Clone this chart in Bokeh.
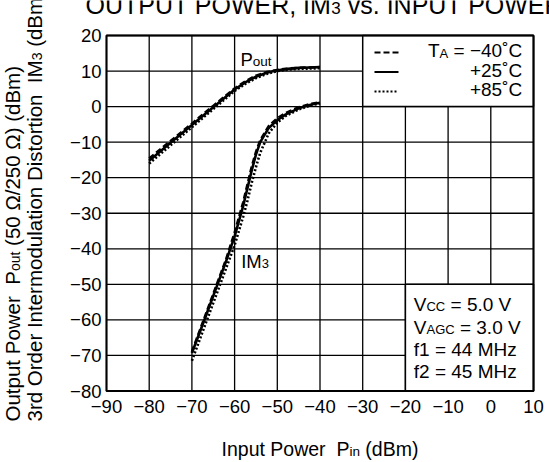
import math
from bokeh.plotting import figure
from bokeh.models import Range1d, FixedTicker, Label, LinearAxis
from bokeh.embed import file_html
from bokeh.resources import INLINE

# ---------------- data ----------------
pout_x = [-80, -75, -70, -65, -60, -57.5, -55, -52.5, -50, -47.5, -45, -42.5, -40]
pout_m40 = [-14.6, -9.7, -4.8, 0.2, 5.1, 7.1, 8.7, 9.7, 10.3, 10.7, 10.9, 11.0, 11.1]
pout_p25 = [-15.2, -10.2, -5.2, -0.2, 4.8, 6.8, 8.4, 9.5, 10.2, 10.6, 10.9, 11.0, 11.1]
pout_p85 = [-16.0, -10.9, -5.8, -0.7, 4.4, 6.4, 8.0, 9.2, 10.0, 10.4, 10.6, 10.7, 10.8]

im3_x = [-70, -68, -66, -64, -62, -60, -58, -57, -56, -55, -54, -52, -50, -48, -45, -42, -40]
im3_m40 = [-69.0, -62.5, -56.0, -49.5, -43.0, -35.5, -27.0, -22.0, -17.0, -12.8, -9.5, -5.5, -3.3, -1.8, -0.2, 0.8, 1.2]
im3_p25 = [-69.3, -63.0, -56.5, -50.0, -43.5, -36.5, -28.0, -23.0, -18.0, -13.5, -10.0, -6.0, -3.8, -2.2, -0.5, 0.6, 1.1]
im3_p85 = [-71.5, -65.0, -58.5, -52.0, -45.5, -39.0, -31.0, -26.5, -21.5, -17.0, -13.0, -7.5, -4.5, -2.6, -0.8, 0.4, 0.9]

x_ticks = [-90, -80, -70, -60, -50, -40, -30, -20, -10, 0, 10]
y_ticks = [-80, -70, -60, -50, -40, -30, -20, -10, 0, 10, 20]
x_tick_labels = ["−90", "−80", "−70", "−60", "−50", "−40", "−30", "−20", "−10", "0", "10"]
y_tick_labels = ["−80", "−70", "−60", "−50", "−40", "−30", "−20", "−10", "0", "10", "20"]

legend_temps = ["−40˚C", "+25˚C", "+85˚C"]
legend_dashes = ["6 3", "solid", "2 2"]
conditions = [("V", "CC", " = 5.0 V"), ("V", "AGC", " = 3.0 V"), ("f1 = 44 MHz", "", ""), ("f2 = 45 MHz", "", "")]

# panels that hide the grid (legend / test conditions)
box_left = [-30, -20]
box_right = [10, 10]
box_bottom = [0, -80]
box_top = [20, -50]

X_MIN, X_MAX, Y_MIN, Y_MAX = -90, 10, -80, 20

# ---------------- layout ----------------
W, H = 549, 462
CL, CR, CT, CB = 106, 533, 35, 390.5      # chart box in canvas pixels
FONT = "Liberation Sans"
kx = (X_MAX - X_MIN) / (CR - CL)
ky = (Y_MAX - Y_MIN) / (CB - CT)
XS, XE = X_MIN - CL * kx, X_MAX + (W - CR) * kx
YS, YE = Y_MIN - (H - CB) * ky, Y_MAX + CT * ky

p = figure(width=W, height=H, x_range=Range1d(XS, XE), y_range=Range1d(YS, YE),
           output_backend="svg", toolbar_location=None,
           x_axis_location=None, y_axis_location=None, min_border=0)
p.background_fill_color = "white"
p.border_fill_color = "white"
p.outline_line_color = None
p.grid.visible = False

xaxis = LinearAxis(fixed_location=Y_MIN, ticker=FixedTicker(ticks=x_ticks))
yaxis = LinearAxis(fixed_location=X_MIN, ticker=FixedTicker(ticks=y_ticks))
for ax, ticks, labs in ((xaxis, x_ticks, x_tick_labels), (yaxis, y_ticks, y_tick_labels)):
    ax.major_label_overrides = {t: l for t, l in zip(ticks, labs)}
    ax.axis_line_color = None
    ax.major_tick_line_color = None
    ax.minor_tick_line_color = None
    ax.major_tick_out = 0
    ax.major_tick_in = 0
    ax.major_label_text_font = FONT
    ax.major_label_text_font_size = "18.5px"
    ax.major_label_text_color = "black"
xaxis.major_label_standoff = 9
yaxis.major_label_standoff = 5
p.add_layout(xaxis, "below")
p.add_layout(yaxis, "left")

# grid lines at the tick values
p.segment(x0=x_ticks, x1=x_ticks, y0=[Y_MIN] * len(x_ticks), y1=[Y_MAX] * len(x_ticks),
          line_color="black", line_width=1.3)
p.segment(x0=[X_MIN] * len(y_ticks), x1=[X_MAX] * len(y_ticks), y0=y_ticks, y1=y_ticks,
          line_color="black", line_width=1.3)

# legend / conditions panels
p.quad(left=box_left, right=box_right, bottom=box_bottom, top=box_top,
       fill_color="white", line_color="black", line_width=1.5)

LW = 2.6
for ys, dash in ((pout_p25, "solid"), (pout_m40, "6 3"), (pout_p85, "2 2")):
    p.line(pout_x, ys, line_color="black", line_width=LW, line_dash=dash)
for ys, dash in ((im3_p25, "solid"), (im3_m40, "6 3"), (im3_p85, "2 2")):
    p.line(im3_x, ys, line_color="black", line_width=LW, line_dash=dash)

# chart frame
p.quad(left=[X_MIN], right=[X_MAX], bottom=[Y_MIN], top=[Y_MAX],
       fill_color=None, line_color="black", line_width=2)


# ---------------- text helpers ----------------
def dx(px):
    return XS + px / W * (XE - XS)


def dy(py):
    return YE - py / H * (YE - YS)


CW = {' ': .278, '−': .584, '+': .584, '=': .584, '(': .333, ')': .333, '/': .278, '.': .278,
      ',': .278, 'Ω': .768, '˚': .333, 'A': .667, 'B': .667, 'C': .722, 'D': .722, 'E': .667,
      'F': .611, 'G': .778, 'H': .722, 'I': .278, 'M': .833, 'N': .722, 'O': .778, 'P': .667,
      'R': .722, 'T': .611, 'U': .722, 'V': .667, 'W': .944, 'Z': .611, 'a': .556, 'b': .556,
      'c': .5, 'd': .556, 'e': .556, 'f': .278, 'g': .556, 'h': .556, 'i': .222, 'l': .222,
      'm': .833, 'n': .556, 'o': .556, 'p': .556, 'r': .333, 's': .5, 't': .278, 'u': .556,
      'v': .5, 'w': .722, 'z': .5}
BASE_FIX = 0.38   # measured offset of Bokeh's "alphabetic" anchor, in em


def tw(s, size):
    return sum(CW.get(c, .556) for c in s) * size


def rich(parts, cx, cy, align="left", rotated=False):
    total = sum(tw(t, s) for t, s, _ in parts)
    start = cx if not rotated else cy
    if align == "right":
        start = start - total if not rotated else start + total
    elif align == "center":
        start = start - total / 2 if not rotated else start + total / 2
    off = 0.0
    for text, size, shift in parts:
        lead = len(text) - len(text.lstrip(' '))
        body = text.strip(' ')
        off += tw(' ' * lead, size)
        if body:
            fix = BASE_FIX * size
            if rotated:
                px, py, ang = cx + shift - fix, start - off, math.pi / 2
            else:
                px, py, ang = start + off, cy + shift - fix, 0
            p.add_layout(Label(x=dx(px), y=dy(py), text=body, angle=ang,
                               text_font=FONT, text_font_size=f"{size}px", text_color="black",
                               text_align="left", text_baseline="alphabetic"))
        off += tw(text[lead:], size)


# title (cut at the top edge, as in the reference)
rich([("OUTPUT POWER, IM", 25, 0), ("3", 17, 0), (" vs. INPUT POWER", 25, 0)], 85, 14)

# curve labels
rich([("P", 18.5, 0), ("out", 13.5, 0)], 240, 66)
rich([("IM", 18.5, 0), ("3", 13, 0)], 240.7, 268)

# legend
row_base = [57.5, 77, 96.5]
for i, (temp, dash) in enumerate(zip(legend_temps, legend_dashes)):
    parts = [("T", 19, 0), ("A", 13, 0), (" = " + temp, 19, 0)] if i == 0 else [(temp, 19, 0)]
    rich(parts, 521.7, row_base[i], align="right")
    sy = dy(row_base[i] - 5.5)
    p.line([dx(374), dx(398)], [sy, sy], line_color="black", line_width=2.2, line_dash=dash)

# test conditions
cond_base = [311, 334, 356, 378]
for (a, b, c), yb in zip(conditions, cond_base):
    rich([(a, 19, 0), (b, 13, 0), (c, 19, 0)], 413.3, yb)

# axis titles
rich([("Input Power", 19.5, 0), ("  P", 19.5, 0), ("in", 13.5, 0), (" (dBm)", 19.5, 0)], 319.5, 456, align="center")
rich([("Output Power", 20.5, 0), ("  P", 20.5, 0), ("out", 14, 0), (" (50 Ω/250 Ω) (dBm)", 20.5, 0)], 19.7, 421, rotated=True)
rich([("3rd Order Intermodulation Distortion", 20.5, 0), ("  IM", 20.5, 0), ("3", 14, 0), (" (dBm)", 20.5, 0)], 41.4, 421, rotated=True)

open("out.html", "w").write(file_html(p, INLINE))
